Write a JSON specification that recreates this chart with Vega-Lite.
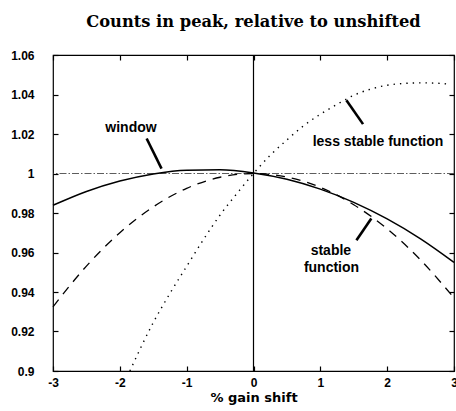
{
  "$schema": "https://vega.github.io/schema/vega-lite/v6.json",
  "width": 401,
  "height": 316,
  "autosize": {"type": "none"},
  "padding": {"left": 53, "top": 55, "right": 2, "bottom": 40},
  "background": "white",
  "title": {
    "text": "Counts in peak, relative to unshifted",
    "font": "DejaVu Serif",
    "fontSize": 16.3,
    "fontWeight": "bold",
    "color": "black",
    "anchor": "middle",
    "offset": 19
  },
  "config": {
    "view": {"stroke": "black", "strokeWidth": 1.2},
    "axis": {
      "domain": false,
      "grid": false,
      "ticks": true,
      "tickColor": "black",
      "tickWidth": 1.2,
      "tickSize": 5,
      "labelFont": "Liberation Sans",
      "labelFontWeight": "bold",
      "labelFontSize": 12,
      "labelColor": "black",
      "titleFont": "DejaVu Sans",
      "titleFontWeight": "bold",
      "titleFontSize": 13,
      "titleColor": "black"
    }
  },
  "datasets": {
    "curves": [
      {"series": "window", "x": -3, "y": 0.9839},
      {"series": "window", "x": -2.5, "y": 0.9909},
      {"series": "window", "x": -2, "y": 0.9962},
      {"series": "window", "x": -1.5, "y": 0.9998},
      {"series": "window", "x": -1, "y": 1.0017},
      {"series": "window", "x": -0.5, "y": 1.0019},
      {"series": "window", "x": 0, "y": 1.0003},
      {"series": "window", "x": 0.5, "y": 0.9971},
      {"series": "window", "x": 1, "y": 0.9921},
      {"series": "window", "x": 1.5, "y": 0.9854},
      {"series": "window", "x": 2, "y": 0.977},
      {"series": "window", "x": 2.5, "y": 0.9669},
      {"series": "window", "x": 3, "y": 0.955},
      {"series": "stable function", "x": -3, "y": 0.9325},
      {"series": "stable function", "x": -2.5, "y": 0.9531},
      {"series": "stable function", "x": -2, "y": 0.97},
      {"series": "stable function", "x": -1.5, "y": 0.9831},
      {"series": "stable function", "x": -1, "y": 0.9925},
      {"series": "stable function", "x": -0.5, "y": 0.9981},
      {"series": "stable function", "x": 0, "y": 1.0},
      {"series": "stable function", "x": 0.5, "y": 0.9982},
      {"series": "stable function", "x": 1, "y": 0.993},
      {"series": "stable function", "x": 1.5, "y": 0.9842},
      {"series": "stable function", "x": 2, "y": 0.972},
      {"series": "stable function", "x": 2.5, "y": 0.9562},
      {"series": "stable function", "x": 3, "y": 0.937},
      {"series": "less stable function", "x": -1.85, "y": 0.9},
      {"series": "less stable function", "x": -1.5, "y": 0.9245},
      {"series": "less stable function", "x": -1.25, "y": 0.9393},
      {"series": "less stable function", "x": -1, "y": 0.953},
      {"series": "less stable function", "x": -0.75, "y": 0.9665},
      {"series": "less stable function", "x": -0.5, "y": 0.979},
      {"series": "less stable function", "x": -0.25, "y": 0.9898},
      {"series": "less stable function", "x": 0, "y": 1.0},
      {"series": "less stable function", "x": 0.25, "y": 1.0092},
      {"series": "less stable function", "x": 0.5, "y": 1.017},
      {"series": "less stable function", "x": 0.75, "y": 1.0242},
      {"series": "less stable function", "x": 1, "y": 1.03},
      {"series": "less stable function", "x": 1.25, "y": 1.035},
      {"series": "less stable function", "x": 1.5, "y": 1.0396},
      {"series": "less stable function", "x": 1.75, "y": 1.0427},
      {"series": "less stable function", "x": 2, "y": 1.0447},
      {"series": "less stable function", "x": 2.25, "y": 1.0456},
      {"series": "less stable function", "x": 2.5, "y": 1.0459},
      {"series": "less stable function", "x": 2.75, "y": 1.0457},
      {"series": "less stable function", "x": 2.95, "y": 1.0452}
    ],
    "labels": [
      {"label": "window", "x": -1.833, "y": 1.0209},
      {"label": "less stable function", "x": 1.863, "y": 1.0138},
      {"label": "stable", "x": 1.158, "y": 0.9586},
      {"label": "function", "x": 1.167, "y": 0.9503}
    ],
    "pointers": [
      {"x": -1.599, "y": 1.0177, "x2": -1.376, "y2": 1.0025},
      {"x": 1.39, "y": 1.0371, "x2": 1.639, "y2": 1.025},
      {"x": 1.54, "y": 0.9662, "x2": 1.763, "y2": 0.9772}
    ]
  },
  "layer": [
    {
      "data": {"values": [{"x": 0}]},
      "mark": {"type": "rule", "color": "black", "strokeWidth": 1.2},
      "encoding": {
        "x": {"field": "x", "type": "quantitative", "scale": {"domain": [-3, 3], "nice": false, "zero": false},
              "axis": {"orient": "top", "values": [-3, -2, -1, 0, 1, 2, 3], "labels": false, "title": null, "offset": -5}}
      }
    },
    {
      "data": {"values": [{"y": 1}]},
      "mark": {"type": "rule", "color": "#333", "strokeWidth": 0.8, "strokeDash": [7, 2, 1.5, 2]},
      "encoding": {
        "y": {"field": "y", "type": "quantitative", "scale": {"domain": [0.9, 1.06], "nice": false, "zero": false},
              "axis": {"orient": "right", "values": [0.9, 0.92, 0.94, 0.96, 0.98, 1, 1.02, 1.04, 1.06], "labels": false, "title": null, "offset": -5}}
      }
    },
    {
      "data": {"name": "curves"},
      "transform": [{"filter": "datum.series === 'window'"}],
      "mark": {"type": "line", "color": "black", "strokeWidth": 1.5, "interpolate": "monotone"},
      "encoding": {
        "x": {"field": "x", "type": "quantitative", "scale": {"domain": [-3, 3], "nice": false, "zero": false},
              "axis": {"orient": "bottom", "values": [-3, -2, -1, 0, 1, 2, 3], "labelExpr": "'' + datum.value", "title": "% gain shift", "labelPadding": 6, "titlePadding": 3, "labelFlush": false, "offset": -5}},
        "y": {"field": "y", "type": "quantitative", "scale": {"domain": [0.9, 1.06], "nice": false, "zero": false},
              "axis": {"orient": "left", "values": [0.9, 0.92, 0.94, 0.96, 0.98, 1, 1.02, 1.04, 1.06], "labelExpr": "'' + datum.value", "title": null, "labelPadding": 19, "labelFlush": false, "offset": -5}}
      }
    },
    {
      "data": {"name": "curves"},
      "transform": [{"filter": "datum.series === 'stable function'"}],
      "mark": {"type": "line", "color": "black", "strokeWidth": 1.3, "strokeDash": [9, 7], "interpolate": "monotone"},
      "encoding": {
        "x": {"field": "x", "type": "quantitative", "axis": null},
        "y": {"field": "y", "type": "quantitative", "axis": null}
      }
    },
    {
      "data": {"name": "curves"},
      "transform": [{"filter": "datum.series === 'less stable function'"}],
      "mark": {"type": "line", "color": "black", "strokeWidth": 1.4, "strokeDash": [1.4, 5], "interpolate": "monotone"},
      "encoding": {
        "x": {"field": "x", "type": "quantitative", "axis": null},
        "y": {"field": "y", "type": "quantitative", "axis": null}
      }
    },
    {
      "data": {"name": "pointers"},
      "mark": {"type": "rule", "color": "black", "strokeWidth": 2.6},
      "encoding": {
        "x": {"field": "x", "type": "quantitative", "axis": null},
        "y": {"field": "y", "type": "quantitative", "axis": null},
        "x2": {"field": "x2"},
        "y2": {"field": "y2"}
      }
    },
    {
      "data": {"name": "labels"},
      "mark": {"type": "text", "font": "Liberation Sans", "fontWeight": "bold", "fontSize": 14, "color": "black", "align": "center", "baseline": "alphabetic"},
      "encoding": {
        "x": {"field": "x", "type": "quantitative", "axis": null},
        "y": {"field": "y", "type": "quantitative", "axis": null},
        "text": {"field": "label"}
      }
    }
  ],
  "resolve": {"axis": {"x": "independent", "y": "independent"}}
}
